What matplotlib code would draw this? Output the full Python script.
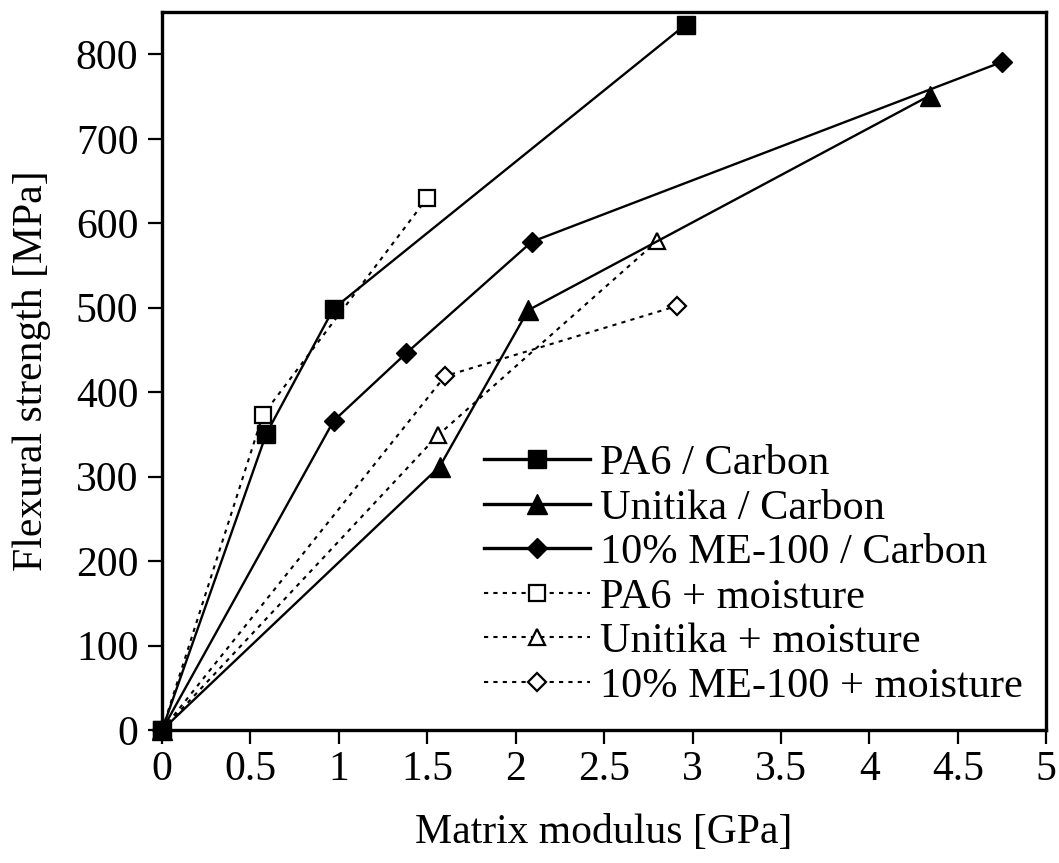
import matplotlib
matplotlib.use('Agg')
import matplotlib.pyplot as plt

plt.rcParams['font.family'] = ['Liberation Serif', 'DejaVu Serif']

# data (x: GPa, y: MPa)
pa6_x = [0, 0.59, 0.97, 2.96]
pa6_y = [0, 351, 499, 835]
unitika_x = [0, 1.57, 2.07, 4.34]
unitika_y = [0, 312, 497, 751]
me100_x = [0, 0.97, 1.38, 2.09, 4.75]
me100_y = [0, 366, 446, 578, 791]
pa6_wet_x = [0, 0.57, 1.50]
pa6_wet_y = [0, 373, 630]
unitika_wet_x = [0, 1.56, 2.80]
unitika_wet_y = [0, 349, 579]
me100_wet_x = [0, 1.60, 2.91]
me100_wet_y = [0, 419, 502]

xticks = [0, 0.5, 1, 1.5, 2, 2.5, 3, 3.5, 4, 4.5, 5]
xtick_labels = ['0', '0.5', '1', '1.5', '2', '2.5', '3', '3.5', '4', '4.5', '5']
yticks = [0, 100, 200, 300, 400, 500, 600, 700, 800]

fig = plt.figure(figsize=(10.59, 8.63), dpi=100)
ax = fig.add_axes([0.153, 0.154, 0.835, 0.832])

dot = (0, (2, 2.5))
ax.plot(pa6_x, pa6_y, '-', color='k', lw=1.7, marker='s', ms=13,
        label='PA6 / Carbon', clip_on=False, zorder=4)
ax.plot(unitika_x, unitika_y, '-', color='k', lw=1.7, marker='^', ms=14,
        label='Unitika / Carbon', clip_on=False, zorder=4)
ax.plot(me100_x, me100_y, '-', color='k', lw=1.7, marker='D', ms=10.5,
        label='10% ME-100 / Carbon', clip_on=False, zorder=4)
ax.plot(pa6_wet_x, pa6_wet_y, linestyle=dot, color='k', lw=1.5, marker='s', ms=11,
        mfc='white', mec='k', mew=1.6, label='PA6 + moisture', clip_on=False, zorder=3)
ax.plot(unitika_wet_x, unitika_wet_y, linestyle=dot, color='k', lw=1.5, marker='^', ms=12,
        mfc='white', mec='k', mew=1.6, label='Unitika + moisture', clip_on=False, zorder=3)
ax.plot(me100_wet_x, me100_wet_y, linestyle=dot, color='k', lw=1.5, marker='D', ms=9,
        mfc='white', mec='k', mew=1.6, label='10% ME-100 + moisture', clip_on=False, zorder=3)

ax.set_xlim(0, 5)
ax.set_ylim(0, 850)
ax.set_xticks(xticks)
ax.set_xticklabels(xtick_labels)
ax.set_yticks(yticks)

for side in ['left', 'right', 'top', 'bottom']:
    ax.spines[side].set_linewidth(2.4)
ax.tick_params(direction='out', length=10, width=1.6, labelsize=30, pad=7)
ax.tick_params(axis='x', pad=5)

ax.set_xlabel('Matrix modulus [GPa]', fontsize=30, labelpad=17)
ax.set_ylabel('Flexural strength [MPa]', fontsize=30, labelpad=18)

leg = ax.legend(loc='upper left', bbox_to_anchor=(0.364, 0.398), frameon=False,
                fontsize=30.5, handlelength=2.5, handletextpad=0.25,
                labelspacing=0.14, borderpad=0, borderaxespad=0)
for h in leg.get_lines()[:3]:
    h.set_linewidth(2.4)

fig.savefig('out.png', dpi=100)
